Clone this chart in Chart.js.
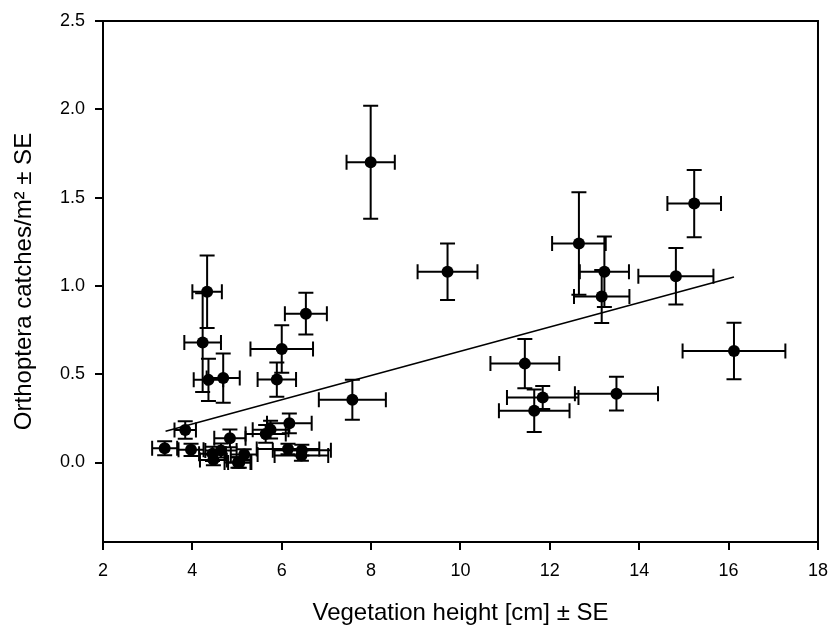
<!DOCTYPE html>
<html lang="en">
<head>
<meta charset="UTF-8">
<title>Orthoptera catches vs vegetation height</title>
<script src="https://cdn.jsdelivr.net/npm/chart.js"></script>
<style>
    html, body { margin: 0; padding: 0; background: #fff; }
    #wrap { width: 838px; height: 628px; }
</style>
</head>
<body>
<div id="wrap"><canvas id="vegChart" width="838" height="628"></canvas></div>
<script>
// site means (x = vegetation height, y = catches) with standard errors
var vegHeight = [7.99, 15.23, 12.65, 13.22, 13.16, 14.82, 16.12, 11.44, 11.84, 11.65, 13.49, 9.71,
    4.33, 4.23, 4.36, 4.69, 6.54, 6.00, 5.89, 7.58,
    3.84, 3.38, 3.97, 4.45, 4.47, 4.64, 4.84, 5.02, 5.05, 5.16, 5.64, 5.75, 6.17, 6.14, 6.45, 6.44];
var catches = [1.70, 1.466, 1.24, 1.08, 0.94, 1.055, 0.632, 0.56, 0.368, 0.293, 0.39, 1.08,
    0.967, 0.679, 0.468, 0.478, 0.843, 0.643, 0.47, 0.355,
    0.184, 0.081, 0.072, 0.049, 0.015, 0.068, 0.137, 0.0, 0.0, 0.045, 0.162, 0.186, 0.222, 0.077, 0.07, 0.04];
var vegHeightSE = [0.54, 0.60, 0.60, 0.55, 0.62, 0.84, 1.15, 0.77, 0.80, 0.79, 0.93, 0.67,
    0.33, 0.41, 0.33, 0.37, 0.47, 0.70, 0.43, 0.75,
    0.24, 0.28, 0.28, 0.30, 0.30, 0.35, 0.35, 0.30, 0.25, 0.30, 0.45, 0.40, 0.50, 0.70, 0.65, 0.60];
var catchesSE = [0.32, 0.19, 0.29, 0.20, 0.15, 0.16, 0.16, 0.14, 0.065, 0.12, 0.095, 0.16,
    0.205, 0.28, 0.12, 0.14, 0.118, 0.134, 0.097, 0.113,
    0.05, 0.04, 0.035, 0.04, 0.03, 0.04, 0.05, 0.03, 0.03, 0.03, 0.05, 0.05, 0.056, 0.03, 0.03, 0.03];

// regression line end points
var fitX = [3.40, 16.12];
var fitY = [0.177, 1.051];

var xTicks = [2, 4, 6, 8, 10, 12, 14, 16, 18];
var yTicks = [0, 0.5, 1.0, 1.5, 2.0, 2.5];

var fontFamily = '"Liberation Sans", Arial, sans-serif';

var pointData = vegHeight.map((x, i) => ({ x: x, y: catches[i] }));
var fitData = fitX.map((x, i) => ({ x: x, y: fitY[i] }));

// draws x and y error bars with caps under the points
var errorBars = {
    id: 'errorBars',
    beforeDatasetsDraw: function (chart) {
        var ctx = chart.ctx;
        var xs = chart.scales.x, ys = chart.scales.y;
        var cap = 7.5;
        ctx.save();
        ctx.strokeStyle = '#000';
        ctx.lineWidth = 2;
        for (var i = 0; i < vegHeight.length; i++) {
            var px = xs.getPixelForValue(vegHeight[i]);
            var py = ys.getPixelForValue(catches[i]);
            var x0 = xs.getPixelForValue(vegHeight[i] - vegHeightSE[i]);
            var x1 = xs.getPixelForValue(vegHeight[i] + vegHeightSE[i]);
            var y0 = ys.getPixelForValue(catches[i] - catchesSE[i]);
            var y1 = ys.getPixelForValue(catches[i] + catchesSE[i]);
            ctx.beginPath();
            ctx.moveTo(x0, py); ctx.lineTo(x1, py);
            ctx.moveTo(x0, py - cap); ctx.lineTo(x0, py + cap);
            ctx.moveTo(x1, py - cap); ctx.lineTo(x1, py + cap);
            ctx.moveTo(px, y0); ctx.lineTo(px, y1);
            ctx.moveTo(px - cap, y0); ctx.lineTo(px + cap, y0);
            ctx.moveTo(px - cap, y1); ctx.lineTo(px + cap, y1);
            ctx.stroke();
        }
        ctx.restore();
    }
};

// closes the box on the top and right
var frame = {
    id: 'frame',
    afterDraw: function (chart) {
        var a = chart.chartArea, ctx = chart.ctx;
        ctx.save();
        ctx.strokeStyle = '#000';
        ctx.lineWidth = 2;
        ctx.beginPath();
        ctx.moveTo(a.left, a.top);
        ctx.lineTo(a.right, a.top);
        ctx.lineTo(a.right, a.bottom);
        ctx.stroke();
        ctx.restore();
    }
};

var ctxVeg = document.getElementById('vegChart').getContext('2d');
var vegChart = new Chart(ctxVeg, {
    type: 'scatter',
    data: {
        datasets: [{
            data: pointData,
            backgroundColor: '#000',
            borderColor: '#000',
            pointRadius: 6,
            pointHoverRadius: 6,
            borderWidth: 0
        }, {
            type: 'line',
            data: fitData,
            borderColor: '#000',
            borderWidth: 1.6,
            pointRadius: 0,
            fill: false,
            tension: 0
        }]
    },
    options: {
        responsive: false,
        animation: false,
        layout: { padding: { top: 21, right: 15, left: 0, bottom: 0 } },
        plugins: { legend: { display: false }, tooltip: { enabled: false } },
        scales: {
            x: {
                type: 'linear',
                position: 'bottom',
                min: 2,
                max: 18,
                afterBuildTicks: function (s) { s.ticks = xTicks.map(v => ({ value: v })); },
                afterFit: function (s) { s.height = 86; },
                border: { display: true, color: '#000', width: 2 },
                grid: { display: true, drawOnChartArea: false, drawTicks: true, tickLength: 8, color: '#000', lineWidth: 2 },
                ticks: { color: '#000', padding: 10, font: { family: fontFamily, size: 18 }, maxRotation: 0 },
                title: { display: true, text: 'Vegetation height [cm] \u00b1 SE', color: '#000',
                    font: { family: fontFamily, size: 24 }, padding: { top: 0, bottom: 0 } }
            },
            y: {
                type: 'linear',
                position: 'left',
                min: -0.45,
                max: 2.5,
                afterBuildTicks: function (s) { s.ticks = yTicks.map(v => ({ value: v })); },
                afterFit: function (s) { s.width = 103; },
                border: { display: true, color: '#000', width: 2 },
                grid: { display: true, drawOnChartArea: false, drawTicks: true, tickLength: 8, color: '#000', lineWidth: 2 },
                ticks: { color: '#000', padding: 10, font: { family: fontFamily, size: 18 },
                    callback: function (v) { return Number(v).toFixed(1); } },
                title: { display: true, text: 'Orthoptera catches/m\u00b2 \u00b1 SE', color: '#000',
                    font: { family: fontFamily, size: 24 }, padding: { top: 10, bottom: 0 } }
            }
        }
    },
    plugins: [errorBars, frame]
});
</script>
</body>
</html>
